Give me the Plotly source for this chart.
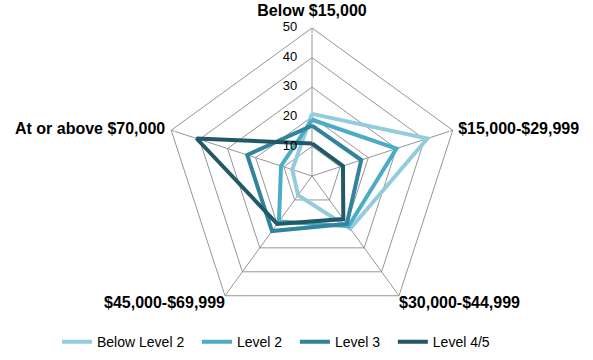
import plotly.graph_objects as go

categories = ["Below $15,000", "$15,000-$29,999", "$30,000-$44,999",
              "$45,000-$69,999", "At or above $70,000"]
series_names = ["Below Level 2", "Level 2", "Level 3", "Level 4/5"]
below_level2 = [21, 41, 22, 8, 7]
level2 = [19, 30, 21, 19, 11]
level3 = [17, 17.5, 20, 23, 23]
level45 = [11, 11, 18, 20, 41]
radial_ticks = [0, 10, 20, 30, 40, 50]

colors = ["#93CDDD", "#4BACC6", "#31849B", "#215968"]

fig = go.Figure()
for name, vals, col in zip(series_names, [below_level2, level2, level3, level45], colors):
    fig.add_trace(go.Scatterpolar(
        r=vals + vals[:1], theta=categories + categories[:1],
        mode="lines", name=name + "\u00a0\u00a0",
        line=dict(color=col, width=4),
    ))

# radial tick labels drawn through the polar scales, to the left of the top spoke
fig.add_trace(go.Scatterpolar(
    r=radial_ticks, theta=[categories[0]] * len(radial_ticks),
    mode="markers+text", text=[str(t) for t in radial_ticks],
    textposition="middle left", textfont=dict(size=13, color="black"),
    marker=dict(size=22, color="rgba(0,0,0,0)"),
    showlegend=False, hoverinfo="skip", cliponaxis=False,
))

# category labels placed at the outer ring of each spoke
fig.add_trace(go.Scatterpolar(
    r=[radial_ticks[-1]] * len(categories), theta=categories,
    mode="markers+text", text=["<b>%s</b>" % c for c in categories],
    textposition=["top center", "middle right", "bottom right", "bottom left", "middle left"],
    textfont=dict(size=16, color="black", family="Liberation Sans, Arial, sans-serif"),
    marker=dict(size=[12, 7, 0, 0, 8], color="rgba(0,0,0,0)"),
    showlegend=False, hoverinfo="skip", cliponaxis=False,
))

cx, cy, R = 312, 176, 148
W, H = 593, 360
fig.update_layout(
    width=W, height=H,
    margin=dict(l=0, r=0, t=0, b=0, autoexpand=False),
    paper_bgcolor="white", plot_bgcolor="white",
    font=dict(family="Liberation Sans, Arial, sans-serif", size=14, color="black"),
    showlegend=True,
    legend=dict(orientation="h", x=57 / W, xanchor="left", y=0.005, yanchor="bottom",
                font=dict(size=14), itemwidth=30, tracegroupgap=0),
    polar=dict(
        domain=dict(x=[(cx - R) / W, (cx + R) / W], y=[(H - cy - R) / H, (H - cy + R) / H]),
        bgcolor="white",
        gridshape="linear",
        radialaxis=dict(range=[0, 50], tickvals=radial_ticks, showticklabels=False,
                        angle=90, showline=False, ticks="",
                        gridcolor="#969696", gridwidth=1),
        angularaxis=dict(rotation=90, direction="clockwise", showline=True,
                         linecolor="#969696", linewidth=1, gridcolor="#969696",
                         ticks="", showticklabels=False,
                         categoryarray=categories,
                         tickmode="array", tickvals=categories),
    ),
)
fig.write_html("out.html", config={"displayModeBar": False},
               post_script="document.body.style.margin='0';")
